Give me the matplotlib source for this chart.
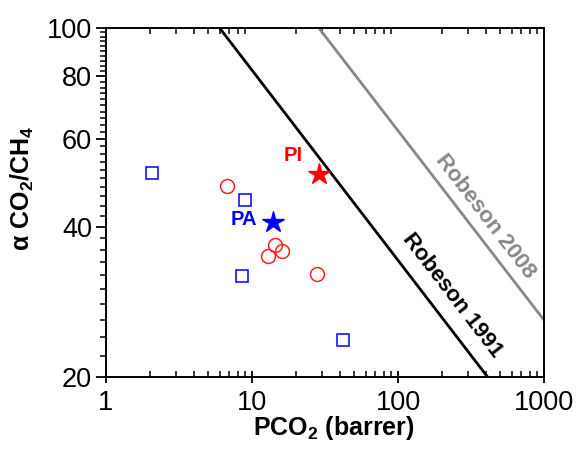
import numpy as np
import matplotlib
matplotlib.use("Agg")
import matplotlib.pyplot as plt
from matplotlib.ticker import FixedLocator, NullFormatter, FixedFormatter

plt.rcParams["font.family"] = ["Liberation Sans", "DejaVu Sans"]
plt.rcParams["mathtext.fontset"] = "custom"
plt.rcParams["mathtext.rm"] = "Liberation Sans"
plt.rcParams["mathtext.bf"] = "Liberation Sans:bold"

# Data
pa_x = [2.07, 8.96, 8.54, 42.0]          # blue open squares
pa_y = [51.3, 45.3, 31.9, 23.7]
pi_x = [6.74, 14.4, 16.1, 12.9, 27.9]    # red open circles
pi_y = [48.3, 36.8, 35.8, 34.9, 32.2]
star_pa = (14.0, 40.9)
star_pi = (28.9, 51.0)

# Robeson upper bounds (end points)
rob1991_x = [6.0, 411.0]
rob1991_y = [100.0, 20.0]
rob2008_x = [28.7, 1000.0]
rob2008_y = [100.0, 26.0]

xticks = [1, 10, 100, 1000]
yticks = [20, 40, 60, 80, 100]

fig = plt.figure(figsize=(5.77, 4.5), dpi=100)
ax = fig.add_axes([106 / 577, 73 / 450, 438 / 577, 349 / 450])

ax.plot(rob1991_x, rob1991_y, color="black", lw=2)
ax.plot(rob2008_x, rob2008_y, color="#888888", lw=2)

ax.plot(pa_x, pa_y, ls="", marker="s", ms=8.5, mfc="none", mec="#0000ff", mew=1.1)
ax.plot(pi_x, pi_y, ls="", marker="o", ms=10, mfc="none", mec="#ff2020", mew=1.1)
ax.plot(*star_pa, ls="", marker="*", ms=16, color="#0000ff")
ax.plot(*star_pi, ls="", marker="*", ms=16, color="#ff0000")

ax.text(10.9, 41.3, "PA", color="#0000ff", fontsize=14.5, fontweight="bold",
        ha="right", va="center")
ax.text(19.1, 55.5, "PI", color="#ff0000", fontsize=14.5, fontweight="bold",
        ha="center", va="center")

ax.text(234, 29.1, "Robeson 1991", color="black", fontsize=16, fontweight="bold",
        rotation=-52.5, ha="center", va="center", rotation_mode="anchor")
ax.text(394, 42.0, "Robeson 2008", color="#888888", fontsize=16, fontweight="bold",
        rotation=-52.5, ha="center", va="center", rotation_mode="anchor")

ax.set_xscale("log")
ax.set_yscale("log")
ax.set_xlim(1, 1000)
ax.set_ylim(20, 100)

ax.xaxis.set_major_locator(FixedLocator(xticks))
ax.xaxis.set_major_formatter(FixedFormatter([str(t) for t in xticks]))
ax.xaxis.set_minor_formatter(NullFormatter())
ax.yaxis.set_major_locator(FixedLocator(yticks))
ax.yaxis.set_major_formatter(FixedFormatter([str(t) for t in yticks]))
ax.yaxis.set_minor_locator(FixedLocator([v for v in range(22, 100, 2) if v not in yticks]))
ax.yaxis.set_minor_formatter(NullFormatter())

ax.tick_params(axis="x", which="major", direction="inout", length=9, width=1.3,
               labelsize=19.5, pad=5, top=False)
ax.tick_params(axis="x", which="minor", direction="in", length=4, width=1.1, top=True)
ax.tick_params(axis="y", which="major", direction="out", length=7, width=1.3,
               labelsize=19.5, pad=3, right=False)
ax.tick_params(axis="y", which="minor", direction="out", length=4, width=1.1)

for s in ax.spines.values():
    s.set_linewidth(1.4)

ax.set_xlabel("PCO$_\\mathbf{2}$ (barrer)", fontsize=18, fontweight="bold")
ax.xaxis.set_label_coords(0.52, -0.105)
ax.set_ylabel("α CO$_\\mathbf{2}$/CH$_\\mathbf{4}$", fontsize=18, fontweight="bold")
ax.yaxis.set_label_coords(-0.16, 0.54)

fig.savefig("out.png", dpi=100)
